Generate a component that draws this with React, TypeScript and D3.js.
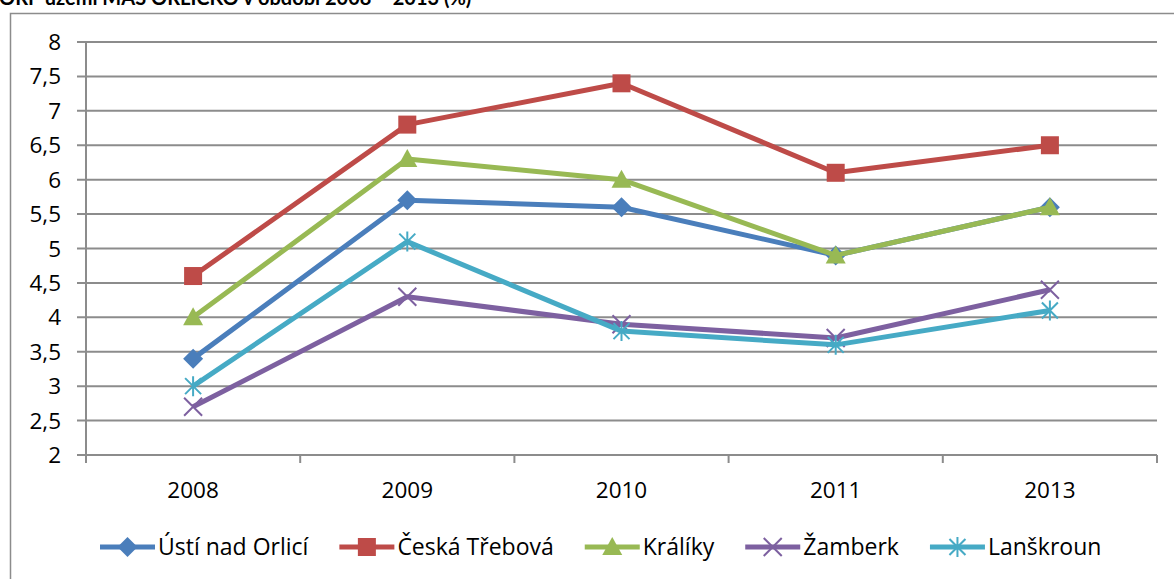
import React, { useEffect, useRef } from "react";
import * as d3 from "d3";

// data
const years = ["2008", "2009", "2010", "2011", "2013"];
const seriesNames = ["Ústí nad Orlicí", "Česká Třebová", "Králíky", "Žamberk", "Lanškroun"];
const usti = [3.4, 5.7, 5.6, 4.9, 5.6];
const ceska = [4.6, 6.8, 7.4, 6.1, 6.5];
const kraliky = [4.0, 6.3, 6.0, 4.9, 5.6];
const zamberk = [2.7, 4.3, 3.9, 3.7, 4.4];
const lanskroun = [3.0, 5.1, 3.8, 3.6, 4.1];
const yTicks = [2, 2.5, 3, 3.5, 4, 4.5, 5, 5.5, 6, 6.5, 7, 7.5, 8];
const titleText = "ORP území MAS ORLICKO v období 2008 – 2013 (%)";

const colors = ["#4A7EBB", "#BE4B48", "#98B954", "#7D60A0", "#46AAC5"];
const markers = ["diamond", "square", "triangle", "x", "star"];
const FONT = "'Open Sans', sans-serif";

const W = 1174;
const H = 579;

const drawMarker = (g: any, type: string, x: number, y: number, color: string) => {
    if (type === "diamond") {
        g.append("path")
            .attr("d", `M${x},${y - 10}L${x + 10},${y}L${x},${y + 10}L${x - 10},${y}Z`)
            .attr("fill", color);
    } else if (type === "square") {
        g.append("rect")
            .attr("x", x - 9).attr("y", y - 9)
            .attr("width", 18).attr("height", 18)
            .attr("fill", color);
    } else if (type === "triangle") {
        g.append("path")
            .attr("d", `M${x},${y - 10}L${x + 10},${y + 8}L${x - 10},${y + 8}Z`)
            .attr("fill", color);
    } else if (type === "x") {
        g.append("path")
            .attr("d", `M${x - 9},${y - 9}L${x + 9},${y + 9}M${x - 9},${y + 9}L${x + 9},${y - 9}`)
            .attr("stroke", color).attr("stroke-width", 2).attr("fill", "none");
    } else {
        g.append("path")
            .attr("d", `M${x - 8},${y - 8}L${x + 8},${y + 8}M${x - 8},${y + 8}L${x + 8},${y - 8}M${x},${y - 10}L${x},${y + 10}`)
            .attr("stroke", color).attr("stroke-width", 2).attr("fill", "none");
    }
};

export default function App() {
    const ref = useRef<SVGSVGElement>(null);

    useEffect(() => {
        const svg = d3.select(ref.current);
        svg.selectAll("*").remove();

        const margin = { top: 42, right: 17, bottom: 124, left: 86 };
        const x0 = margin.left;
        const x1 = W - margin.right;
        const y0 = H - margin.bottom;
        const y1 = margin.top;

        // frame
        svg.append("rect")
            .attr("x", 10.5).attr("y", 13.5)
            .attr("width", W + 20).attr("height", H + 20)
            .attr("fill", "white").attr("stroke", "#8c8c8c").attr("stroke-width", 1.5);

        // title (clipped by the top of the page, as in the source)
        svg.append("text")
            .attr("x", -1).attr("y", 5)
            .attr("font-family", "Lato, sans-serif").attr("font-size", 20).attr("font-weight", "bold")
            .text(titleText);

        const xScale = d3.scaleBand().domain(years).range([x0, x1]);
        const yScale = d3.scaleLinear().domain([2, 8]).range([y0, y1]);

        // gridlines
        svg.append("g").selectAll("line")
            .data(yTicks).enter()
            .append("line")
            .attr("x1", x0 - 9).attr("x2", x1)
            .attr("y1", d => yScale(d)).attr("y2", d => yScale(d))
            .attr("stroke", "#8c8c8c").attr("stroke-width", 2);

        // y labels
        svg.append("g").selectAll("text")
            .data(yTicks).enter()
            .append("text")
            .attr("x", 61).attr("y", d => yScale(d) + 8)
            .attr("text-anchor", "end")
            .attr("font-family", FONT).attr("font-size", 22.5)
            .text(d => String(d).replace(".", ","));

        // y axis
        svg.append("line")
            .attr("x1", x0).attr("x2", x0)
            .attr("y1", y1).attr("y2", y0 + 8)
            .attr("stroke", "#8c8c8c").attr("stroke-width", 2);

        // x ticks at category boundaries
        const bounds = years.map(d => xScale(d) as number).concat([x1]);
        svg.append("g").selectAll("line")
            .data(bounds).enter()
            .append("line")
            .attr("x1", d => d).attr("x2", d => d)
            .attr("y1", y0).attr("y2", y0 + 8)
            .attr("stroke", "#8c8c8c").attr("stroke-width", 2);

        // x labels
        svg.append("g").selectAll("text")
            .data(years).enter()
            .append("text")
            .attr("x", d => (xScale(d) as number) + xScale.bandwidth() / 2)
            .attr("y", y0 + 43)
            .attr("text-anchor", "middle")
            .attr("font-family", FONT).attr("font-size", 22.5)
            .text(d => d);

        const allSeries = [usti, ceska, kraliky, zamberk, lanskroun];
        const cx = (d: string) => (xScale(d) as number) + xScale.bandwidth() / 2;
        const line = d3.line<number>()
            .x((_, i) => cx(years[i]))
            .y(d => yScale(d));

        allSeries.forEach((values, si) => {
            const g = svg.append("g");
            g.append("path")
                .attr("d", line(values))
                .attr("fill", "none")
                .attr("stroke", colors[si])
                .attr("stroke-width", 5)
                .attr("stroke-linejoin", "round");
            values.forEach((v, i) => drawMarker(g, markers[si], cx(years[i]), yScale(v), colors[si]));
        });

        // legend
        const legend = svg.append("g");
        let lx = 100;
        const ly = 547;
        seriesNames.forEach((name, si) => {
            legend.append("line")
                .attr("x1", lx).attr("x2", lx + 55)
                .attr("y1", ly).attr("y2", ly)
                .attr("stroke", colors[si]).attr("stroke-width", 5);
            drawMarker(legend, markers[si], lx + 27.5, ly, colors[si]);
            const t = legend.append("text")
                .attr("x", lx + 58).attr("y", ly + 8)
                .attr("font-family", FONT).attr("font-size", 23)
                .text(name);
            const tw = (t.node() as SVGTextElement).getComputedTextLength();
            lx = lx + 58 + tw + 31;
        });
    }, []);

    return (
        <svg ref={ref} width={W} height={H}
            style={{ position: "absolute", left: 0, top: 0, background: "white" }} />
    );
}
